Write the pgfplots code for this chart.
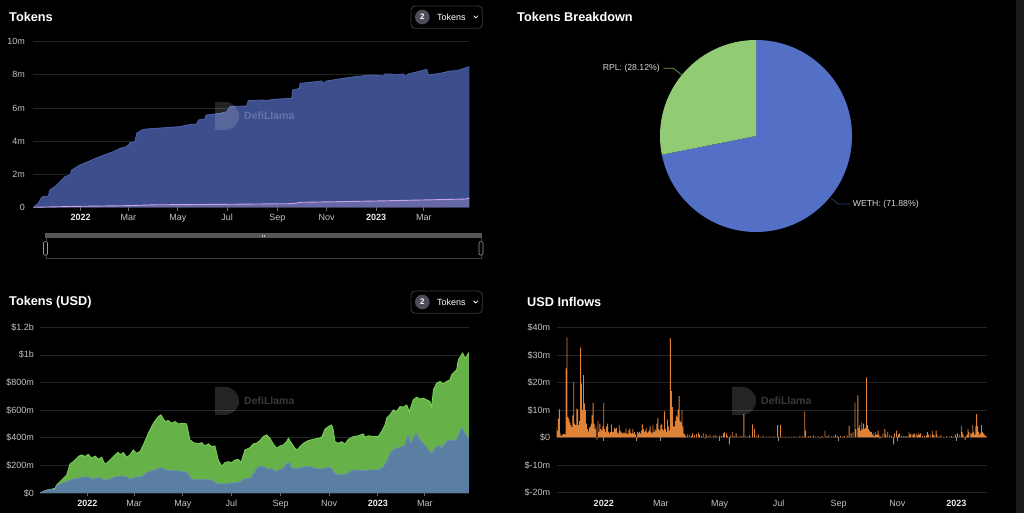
\documentclass[border=0pt]{standalone}
\usepackage{pgfplots}
\pgfplotsset{compat=1.18}
\usepackage{pgfplotstable}
\usepackage{fontspec}
\setmainfont{Liberation Sans}

\definecolor{gridc}{HTML}{232323}
\definecolor{tickc}{HTML}{C4C4C4}
\definecolor{yearc}{HTML}{ECECEC}
\definecolor{tickmk}{HTML}{6A6A6A}
\definecolor{tokblue}{HTML}{3C4F8C}
\definecolor{tokline}{HTML}{4D63AE}
\definecolor{rplline}{HTML}{CAA2E8}
\definecolor{usdgreen}{HTML}{66B248}
\definecolor{usdgreenl}{HTML}{7CD35A}
\definecolor{usdblue}{HTML}{5B7FA2}
\definecolor{usdbluel}{HTML}{6C91B6}
\definecolor{inflow}{HTML}{DE8238}
\definecolor{pieblue}{HTML}{5470C6}
\definecolor{piegreen}{HTML}{91CC75}
\definecolor{labelc}{HTML}{D6D6D6}
\definecolor{btnborder}{HTML}{3A3A3A}
\definecolor{btncircle}{HTML}{4E4E58}
\definecolor{sliderbar}{HTML}{565656}
\definecolor{sliderline}{HTML}{3E3E3E}
\definecolor{handlec}{HTML}{9A9A9A}
\definecolor{stripc}{HTML}{1B1B1E}

% Tokens: total (top of blue area), millions
\pgfplotstableread{
d v
-58.6 0
-52.4 0.24
-48.3 0.60
-46.2 0.64
-40.0 0.68
-38.0 1.05
-31.8 1.25
-25.6 1.55
-19.4 1.85
-13.2 1.95
-11.2 2.25
-0.9 2.56
7.4 2.72
23.8 3.06
40.3 3.36
48.6 3.56
56.8 3.66
60.9 3.90
67.1 3.96
69.2 4.47
75.4 4.67
81.5 4.73
122.8 4.87
131.0 4.97
143.4 5.03
145.4 5.27
153.6 5.33
154.9 5.57
172.2 5.67
180.4 5.77
184.6 6.08
205.2 6.12
207.2 6.44
225.8 6.48
229.9 6.44
238.1 6.52
260.8 6.58
262.0 7.08
270.3 7.18
271.1 7.48
297.9 7.63
299.9 7.48
304.0 7.63
332.9 7.85
357.6 7.99
374.1 7.93
376.2 8.05
384.4 8.05
386.5 7.99
398.8 8.05
400.9 7.89
405.0 8.05
421.5 8.25
427.7 8.33
429.7 7.99
444.2 8.09
456.5 8.23
464.7 8.25
480.3 8.49
}\tokTotal

\pgfplotstableread{
d v
-58.6 0
-30 0.03
0 0.06
60 0.10
90 0.15
180 0.18
262 0.22
272 0.30
365 0.38
440 0.46
476 0.50
480.3 0.57
}\tokSmall

% Tokens (USD): total, millions
\pgfplotstableread{
d v
-59.4 0
-53.1 17
-44.8 27
-40.6 34
-38.5 58
-32.2 94
-25.9 131
-21.7 210
-17.5 227
-11.3 264
-7.1 276
-2.9 264
1.3 280
5.5 252
9.7 268
13.9 244
18 259
22.2 208
26.4 227
30.6 252
34.8 276
39 295
41.1 276
45.3 293
49.5 259
53.6 276
57.8 312
62 288
66.2 300
70.4 348
76.7 433
83 505
89.3 554
92.6 566
97.6 518
101.8 525
106 505
110.2 518
114.4 500
120.6 505
124.8 500
129 385
133.2 365
139.5 356
143.7 365
147.9 341
152.1 356
156.3 336
160.4 341
164.6 239
168.8 196
173 220
177.2 227
181.4 220
185.6 239
189.7 244
193.1 220
198.1 312
204.4 328
208.6 356
212.8 360
217 380
221.2 409
225.3 421
229.5 397
233.7 355
237.9 324
242.1 341
246.3 348
250.5 372
252.6 397
256.8 360
261 324
263.1 312
267.2 336
271.4 360
277.7 380
284 389
290.3 397
294.5 404
298.6 462
302.8 481
307 493
309.1 457
311.2 372
315.4 360
319.6 372
323.8 355
328 389
334.2 409
340.5 414
346.8 428
348.9 404
353.1 414
359.3 409
365.6 409
369.8 445
374 493
376.1 542
380.3 566
384.5 602
388.7 590
392.9 626
397.1 622
401.3 638
404.6 590
409.6 675
413.8 694
418 680
422.2 687
426.4 675
430.6 663
432.7 622
434.8 747
439 796
443.2 808
447.3 791
451.5 808
455.7 820
457.8 856
462 880
464.1 892
466.2 965
471.6 1013
474.6 977
476.7 989
478.8 1013
479.5 1000
}\usdTotal

\pgfplotstableread{
d v
-59.4 0
-53.1 17
-46.9 28
-40.6 22
-38.5 53
-32.2 70
-25.9 82
-19.6 99
-13.4 104
-7.1 114
1.3 118
7.6 99
13.9 114
22.2 94
28.5 99
34.8 118
43.2 123
49.5 118
53.6 99
59.9 114
68.3 118
74.6 148
80.8 162
87.1 172
92.6 184
99.7 167
106 162
114.4 160
122.7 155
126.9 138
131.1 99
143.7 99
156.3 94
162.5 70
168.8 65
177.2 70
185.6 75
191.9 82
196.1 99
202.4 106
204.4 106
208.6 138
212.8 179
217 196
221.2 191
227.4 172
231.6 179
235.8 155
240 167
246.3 179
250.5 215
253.8 220
256.8 179
265.2 179
273.5 191
279.8 191
286.1 179
294.5 174
300.7 186
307 179
311.2 138
319.6 131
325.9 138
332.1 162
338.4 167
346.8 162
355.2 167
365.6 167
371.9 191
376.1 227
380.3 288
384.5 312
388.7 324
395 336
399.2 348
401.3 397
403.4 421
405.5 360
409.6 397
413 433
415.9 404
420.1 372
424.3 348
428.5 312
432.7 288
436.9 324
441.1 348
445.3 324
451.5 372
455.7 385
459.9 380
464.1 389
466.2 421
470.4 476
474.6 433
478.8 397
479.5 390
}\usdWeth

% USD inflows, millions per day
\pgfplotstableread{
d v
-49 3.6
-48 2.5
-47 6.9
-46 10.2
-45 1.5
-44 0.6
-43 0.9
-42 1.2
-41 1.4
-40 1.0
-39 25.1
-38 36.4
-37 7.5
-36 6.8
-35 5.5
-34 4.5
-33 3.8
-32 8.0
-31 20.2
-30 5.0
-29 4.5
-28 10.5
-27 10.2
-26 4.5
-25 6.0
-24 32.7
-23 19.6
-22 10.0
-21 22.7
-20 12.4
-19 10.0
-18 5.0
-17 3.0
-16 2.2
-15 3.5
-14 4.0
-13 5.0
-12 8.0
-11 12.6
-10 5.0
-9 3.0
-8 4.0
-7 -1.0
-6 6.0
-5 2.0
-4 5.0
-3 3.0
-2 2.5
-1 4.0
0 12.6
1 3.0
2 2.0
3 4.0
4 5.0
5 2.0
6 1.5
7 2.0
8 4.8
9 2.0
10 2.0
11 3.5
12 3.0
13 3.5
14 2.0
15 1.5
16 4.5
17 2.5
18 2.0
19 1.5
20 1.5
21 2.0
22 1.5
23 3.2
24 1.5
25 1.2
26 2.5
27 3.2
28 1.5
29 1.5
30 3.0
31 1.5
32 2.0
33 1.0
34 -1.2
35 2.0
36 1.5
37 2.0
38 1.5
39 2.5
40 4.8
41 3.0
42 2.0
43 2.5
44 3.5
45 1.8
46 2.0
47 2.5
48 4.0
49 2.0
50 1.5
51 4.5
52 2.0
53 3.0
54 2.5
55 5.0
56 7.0
57 3.0
58 2.5
59 4.5
60 5.0
61 3.0
62 2.5
63 9.5
64 3.0
65 2.0
66 6.5
67 4.0
68 2.5
69 36.0
70 16.9
71 11.0
72 4.0
73 4.0
74 6.0
75 8.0
76 7.5
77 10.0
78 15.0
79 6.0
80 5.5
81 10.0
82 4.0
83 1.5
84 1.0
85 0.5
87 1.2
89 1.0
91 0.6
92 1.5
94 0.8
96 1.2
98 1.8
99 1.0
101 0.6
103 1.5
105 -0.4
106 1.2
108 0.5
110 1.0
112 0.4
114 0.8
116 0.8
118 0.3
120 0.8
122 0.5
124 1.5
125 2.0
127 1.5
128 0.5
130 -2.5
131 0.6
133 2.0
135 0.5
137 1.5
139 0.4
141 0.5
143 0.6
145 8.5
147 0.5
149 0.3
151 0.8
154 4.8
156 3.0
158 0.4
160 1.0
162 0.3
165 0.5
168 0.3
170 0.3
172 0.3
175 0.3
177 0.4
180 4.5
183 4.5
185 0.3
188 0.3
191 0.3
194 0.3
197 0.4
200 0.3
203 0.5
206 0.5
208 9.5
209 2.5
212 0.4
214 0.5
217 0.8
219 0.3
222 0.5
224 -0.3
226 0.5
229 2.5
231 0.5
233 0.8
236 0.5
238 0.5
240 1.0
242 0.5
245 0.5
247 0.3
249 0.5
252 0.8
254 4.2
256 1.5
258 2.0
260 12.7
261 3.0
263 15.3
264 3.5
265 4.5
266 2.5
267 5.5
268 3.0
269 5.0
270 3.0
271 3.5
272 21.9
273 4.5
274 3.0
275 2.5
276 2.0
277 2.0
278 1.0
279 1.5
280 0.5
281 2.0
282 1.0
283 1.0
284 2.5
285 0.8
286 -0.5
287 0.5
289 1.5
291 3.0
292 1.0
294 2.0
296 1.0
298 0.5
300 -2.5
301 1.5
303 2.5
304 -0.5
305 1.0
306 1.5
308 0.5
310 0.5
312 0.5
314 0.5
316 2.0
317 1.0
318 1.5
320 1.0
321 1.5
322 1.0
324 1.5
325 0.8
326 1.5
327 1.0
328 1.5
330 0.5
332 0.5
334 0.8
335 2.0
336 1.0
338 1.0
340 2.5
341 1.0
342 0.8
344 2.5
345 1.0
347 0.5
349 0.8
352 0.3
355 0.5
358 0.3
360 0.5
362 0.3
364 1.0
366 1.5
368 1.0
370 4.2
371 2.0
372 1.0
374 -1.0
375 0.5
376 1.0
377 3.0
378 2.0
380 1.5
381 1.5
382 4.5
383 2.0
384 1.0
385 4.0
386 8.5
387 4.0
388 2.0
389 1.0
390 1.5
391 4.5
392 2.0
393 1.5
394 1.0
395 0.5
396 0.5
}\inflows

\pgfplotsset{
  panel/.style={
    scale only axis, anchor=south west,
    axis line style={draw=none},
    tick label style={font=\fontsize{9}{10}\selectfont, text=tickc},
    xticklabel style={text height=6.6pt, text depth=1.9pt},
    ymajorgrids, grid style={gridc, line width=0.7pt},
    ytick style={draw=none},
    xtick style={draw=tickmk, line width=0.7pt},
    tick align=outside, major tick length=3.5pt,
    xtick pos=bottom, ytick pos=left,
    /pgf/number format/assume math mode=true,
  },
}

\newcommand{\titlefont}{\fontsize{12.7}{14}\selectfont\bfseries}
\newcommand{\wmark}[2]{%
  \fill[white, opacity=0.14] (#1,{#2+14}) -- ({#1+10},{#2+14}) arc[start angle=90,end angle=-90,radius=14pt] -- (#1,{#2-14}) -- cycle;
  \node[anchor=west, inner sep=0pt, text=white, opacity=0.22, font=\fontsize{10.5}{12}\selectfont\bfseries] at ({#1+29},#2) {DefiLlama};
}
\newcommand{\tokbtn}[1]{%
  \draw[btnborder, line width=0.8pt, rounded corners=4pt] (411,{#1+11}) rectangle (482.3,{#1-11.3});
  \fill[btncircle] (422.3,#1) circle (7.3pt);
  \node[text=white, inner sep=0pt, font=\fontsize{8}{9}\selectfont\bfseries] at (422.3,#1) {2};
  \node[text=white, inner sep=0pt, font=\fontsize{9}{10}\selectfont] at (451.3,#1) {Tokens};
  \draw[white, line width=0.8pt] (473.6,{#1+1.2}) -- (475.7,{#1-0.9}) -- (477.8,{#1+1.2});
}

\begin{document}
\begin{tikzpicture}[x=1pt,y=1pt]
\useasboundingbox (0,0) rectangle (1024,513);
\fill[black] (0,0) rectangle (1024,513);
\fill[stripc] (1016,0) rectangle (1024,513);

% ---------- Tokens ----------
\node[anchor=west, inner sep=0pt, text=white, font=\titlefont] at (9,496) {Tokens};
\tokbtn{496}
\begin{axis}[panel, at={(33.3pt,305.7pt)}, width=436pt, height=165.6pt,
  xmin=-58.6, xmax=480.3, ymin=0, ymax=10,
  ytick={0,2,4,6,8,10}, yticklabels={0,2m,4m,6m,8m,10m},
  yticklabel style={xshift=-1.5pt},
  xtick={0,59,120,181,243,304,365,424},
  xticklabels={\textbf{\color{yearc}2022},Mar,May,Jul,Sep,Nov,\textbf{\color{yearc}2023},Mar}]
\addplot[draw=none, fill=tokblue] table {\tokTotal} \closedcycle;
\addplot[tokline, line width=0.8pt] table {\tokTotal};
\addplot[draw=none, fill=rplline, fill opacity=0.3] table {\tokSmall} \closedcycle;
\addplot[rplline, line width=0.9pt] table {\tokSmall};
\end{axis}
\wmark{215}{397}
% data zoom slider
\fill[sliderbar] (45,279.7) rectangle (481.7,274.7);
\draw[sliderline, line width=0.8pt] (46,274.7) -- (46,254.7) -- (481,254.7) -- (481,274.7);
\draw[white!75!black, line width=0.5pt] (262.3,278.2) -- (262.3,276.2) (264.3,278.2) -- (264.3,276.2);
\draw[handlec, fill=black, line width=0.6pt, rounded corners=1pt] (43.5,271.3) rectangle (47.5,258);
\draw[handlec, fill=black, line width=0.6pt, rounded corners=1pt] (479,271.3) rectangle (483,258);

% ---------- Tokens Breakdown ----------
\node[anchor=west, inner sep=0pt, text=white, font=\titlefont] at (517,496) {Tokens Breakdown};
\fill[pieblue] (756,377) -- ++(90:96pt) arc[start angle=90, end angle={90-71.88*3.6}, radius=96pt] -- cycle;
\fill[piegreen] (756,377) -- ++({90-71.88*3.6}:96pt) arc[start angle={90-71.88*3.6}, end angle=-270, radius=96pt] -- cycle;
\draw[piegreen!80!black, line width=0.7pt] (681.7,438) -- (673.3,444.7) -- (663.3,444.7);
\node[anchor=east, inner sep=0pt, text=labelc, font=\fontsize{8.7}{10}\selectfont] at (660,444.7) {RPL: (28.12\%)};
\draw[pieblue!60!black, line width=0.7pt] (831,314.7) -- (838.3,309) -- (850,309);
\node[anchor=west, inner sep=0pt, text=labelc, font=\fontsize{8.7}{10}\selectfont] at (852.7,309) {WETH: (71.88\%)};

% ---------- Tokens (USD) ----------
\node[anchor=west, inner sep=0pt, text=white, font=\titlefont] at (9,211) {Tokens (USD)};
\tokbtn{211}
\begin{axis}[panel, at={(40pt,20pt)}, width=429pt, height=165.7pt,
  xmin=-59.4, xmax=479.6, ymin=0, ymax=1200,
  ytick={0,200,400,600,800,1000,1200},
  yticklabels={\$0,\$200m,\$400m,\$600m,\$800m,\$1b,\$1.2b},
  yticklabel style={xshift=1pt},
  xtick={0,59,120,181,243,304,365,424},
  xticklabels={\textbf{\color{yearc}2022},Mar,May,Jul,Sep,Nov,\textbf{\color{yearc}2023},Mar}]
\addplot[draw=none, fill=usdgreen] table {\usdTotal} \closedcycle;
\addplot[usdgreenl, line width=0.8pt] table {\usdTotal};
\addplot[draw=none, fill=usdblue] table {\usdWeth} \closedcycle;
\addplot[usdbluel, line width=0.6pt] table {\usdWeth};
\end{axis}
\wmark{215}{112}

% ---------- USD Inflows ----------
\node[anchor=west, inner sep=0pt, text=white, font=\titlefont] at (527,211) {USD Inflows};
\begin{axis}[panel, at={(556.7pt,20.5pt)}, width=430pt, height=165pt,
  xmin=-48.7, xmax=396.4, ymin=-20, ymax=40,
  ytick={-20,-10,0,10,20,30,40},
  yticklabels={\$-20m,\$-10m,\$0,\$10m,\$20m,\$30m,\$40m},
  yticklabel style={xshift=0.5pt},
  xtick style={draw=none},
  xtick={0,59,120,181,243,304,365},
  xticklabels={\textbf{\color{yearc}2022},Mar,May,Jul,Sep,Nov,\textbf{\color{yearc}2023}}]
\addplot[ybar, bar width=0.9, fill=inflow, draw=none] table {\inflows};
\pgfplotsinvokeforeach{0,59,120,181,243,304,365}{
  \draw[white!55!black, line width=1pt] (axis cs:#1,0) -- ([yshift=-3.5pt]axis cs:#1,0);
}
\end{axis}
\wmark{732}{112}
\end{tikzpicture}
\end{document}
